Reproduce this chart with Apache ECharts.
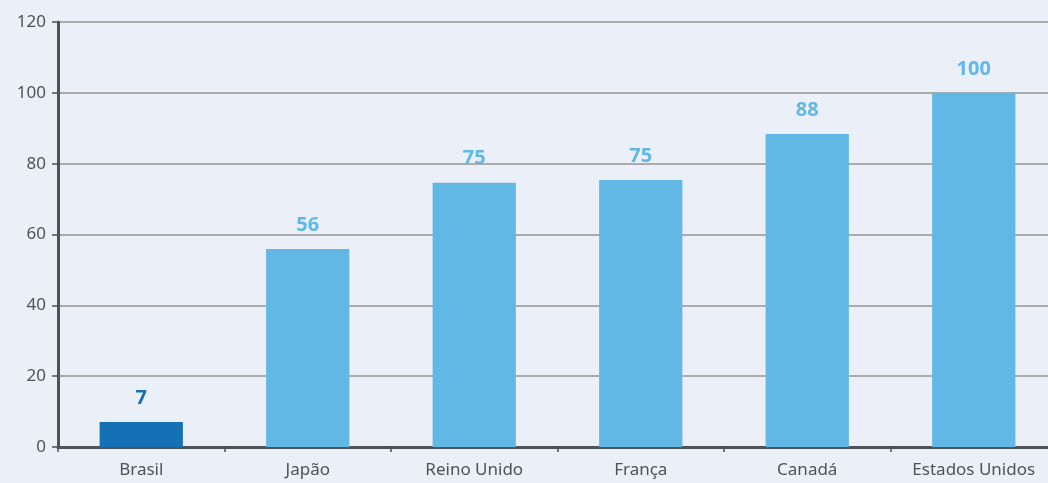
<!DOCTYPE html>
<html>
<head>
<meta charset="utf-8">
<script src="https://cdn.jsdelivr.net/npm/echarts@6/dist/echarts.min.js"></script>
<style>
  html, body { margin: 0; padding: 0; background: #ebeff7; overflow: hidden; }
  /* a área do gráfico continua além da borda direita, como no original */
  #chart { width: 1060px; height: 483px; }
</style>
</head>
<body>
<div id="chart"></div>
<script>
// países e valores
const categories = ['Brasil', 'Japão', 'Reino Unido', 'França', 'Canadá', 'Estados Unidos'];
const values = [7.06, 55.9, 74.6, 75.4, 88.4, 100];
const highlight = 'Brasil';

const dark = '#1570b5';
const light = '#62b8e5';

const chart = echarts.init(document.getElementById('chart'));

chart.setOption({
	backgroundColor: '#ebeff7',
	animation: false,
	grid: { left: 58, top: 22, bottom: 36, right: 3, containLabel: false },
	xAxis: {
		type: 'category',
		data: categories,
		axisLine: { lineStyle: { color: '#505255', width: 3 } },
		axisTick: { show: true, length: 5, lineStyle: { color: '#505255', width: 1.5 } },
		axisLabel: { color: '#505255', fontSize: 17, fontFamily: 'Noto Sans', margin: 15 }
	},
	yAxis: {
		type: 'value',
		min: 0,
		max: 120,
		interval: 20,
		axisLine: { show: true, lineStyle: { color: '#505255', width: 3 } },
		axisTick: { show: true, length: 6, lineStyle: { color: '#505255', width: 1.5 } },
		axisLabel: { color: '#505255', fontSize: 17, fontFamily: 'Noto Sans', margin: 12 },
		splitLine: { lineStyle: { color: '#ababab', width: 2 } }
	},
	series: [{
		type: 'bar',
		barWidth: '50%',
		data: values.map((v, i) => ({
			value: v,
			itemStyle: { color: categories[i] === highlight ? dark : light },
			label: { color: categories[i] === highlight ? dark : light }
		})),
		label: {
			show: true,
			position: 'top',
			distance: 14,
			fontSize: 20,
			fontWeight: 'bold',
			fontFamily: 'Noto Sans',
			formatter: p => Math.round(p.value)
		}
	}]
});
</script>
</body>
</html>
